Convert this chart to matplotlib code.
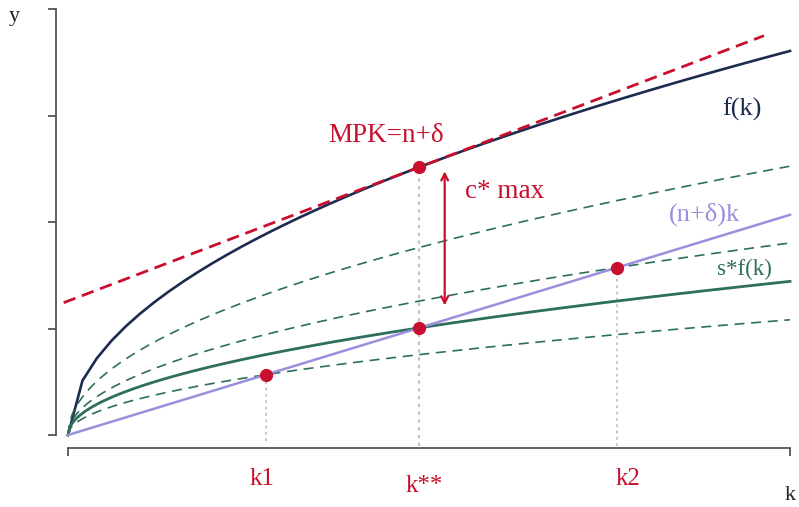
import matplotlib.pyplot as plt
import numpy as np

# model parameters
A = 1.1417          # f(k) = A * k^alpha
alpha = 0.5
nd = 0.207          # n + delta
s_main = 0.4
s_other = [0.3, 0.5, 0.7]
k_max = 10.0
y_ticks = [0, 1, 2, 3, 4]
k_labels = ["k1", "k**", "k2"]

red = "#c8102e"
navy = "#1c2b4f"
green = "#2e6e5d"
lav = "#9a8fdc"
grey = "#c4c4c4"

plt.rcParams['font.family'] = ['Liberation Serif', 'DejaVu Serif']

W, H = 799, 507
fig = plt.figure(figsize=(W / 100, H / 100), dpi=100)
# axes box in pixels: left spine x=56, bottom spine y=448
L, R, T, B = 56, 796, 5, 448
ax = fig.add_axes([L / W, (H - B) / H, (R - L) / W, (B - T) / H])

px_per_k = (790 - 68) / k_max
px_per_y = (435 - 9.5) / 4
ax.set_xlim((L - 68) / px_per_k, (R - 68) / px_per_k)
ax.set_ylim(-(B - 435) / px_per_y, (435 - T) / px_per_y)


def f(k):
    return A * k ** alpha


k = np.linspace(0, k_max, 51)
kk = np.linspace(0, k_max, 400)

# golden rule and the other steady states
k_star = (s_main * A / nd) ** 2
k_pts = [(s * A / nd) ** 2 for s in [s_other[0], s_main, s_other[1]]]

# tangent at k**
mpk = alpha * A * k_star ** (alpha - 1)
kt = np.array([-0.06, 9.64])
ax.plot(kt, f(k_star) + mpk * (kt - k_star), color=red, lw=2.0, ls=(0, (4.5, 2.5)), zorder=3)

ax.plot(k, f(k), color=navy, lw=1.9, zorder=2)
for s in s_other:
    ax.plot(kk, s * f(kk), color=green, lw=1.2, ls=(0, (6, 4)), zorder=2)
ax.plot(kk, s_main * f(kk), color=green, lw=2.0, zorder=2)
ax.plot([0, k_max], [0, nd * k_max], color=lav, lw=1.8, zorder=2)

# dotted guides and points
ax.vlines(k_pts[0], -0.06, nd * k_pts[0], color=grey, lw=1.3, ls=(0, (1.5, 2)), zorder=1)
ax.vlines(k_star, -0.1, f(k_star), color=grey, lw=1.6, ls=(0, (1.5, 2)), zorder=1)
ax.vlines(k_pts[2], -0.1, nd * k_pts[2], color=grey, lw=1.3, ls=(0, (1.5, 2)), zorder=1)
ax.plot(k_pts, [nd * x for x in k_pts], "o", color=red, ms=8.5, zorder=5)
ax.plot([k_star], [f(k_star)], "o", color=red, ms=8.5, zorder=5)

# c* max arrow
xa = k_star + 0.35
ax.annotate("", xy=(xa, f(k_star) - 0.04), xytext=(xa, nd * k_star + 0.21),
            arrowprops=dict(arrowstyle="<->", color=red, lw=1.6, mutation_scale=12,
                            shrinkA=0, shrinkB=0))

# axes style
for sp in ["top", "right"]:
    ax.spines[sp].set_visible(False)
ax.spines["left"].set_bounds(0, 4)
ax.spines["bottom"].set_bounds(0, k_max)
for sp in ["left", "bottom"]:
    ax.spines[sp].set_color("#555555")
    ax.spines[sp].set_linewidth(1.3)
ax.set_yticks(y_ticks)
ax.set_yticklabels([])
ax.set_xticks([0, k_max])
ax.set_xticklabels([])
ax.tick_params(length=6, width=1.3, color="#555555")


def ptext(x, y, s, **kw):
    fig.text(x / W, 1 - y / H, s, ha="center", va="center", **kw)


ptext(386, 136, "MPK=n+δ", color=red, fontsize=19.5)
ptext(505, 192, "c* max", color=red, fontsize=19.5)
ptext(742, 109, "f(k)", color=navy, fontsize=19)
ptext(704, 214, "(n+δ)k", color=lav, fontsize=19)
ptext(744, 269, "s*f(k)", color=green, fontsize=16.5)
ptext(262, 479, k_labels[0], color=red, fontsize=18)
ptext(424, 486, k_labels[1], color=red, fontsize=18)
ptext(628, 479, k_labels[2], color=red, fontsize=18)
ptext(14, 17, "y", color="#222222", fontsize=16)
ptext(790, 496, "k", color="#222222", fontsize=16)

fig.savefig("out.png", dpi=100)
